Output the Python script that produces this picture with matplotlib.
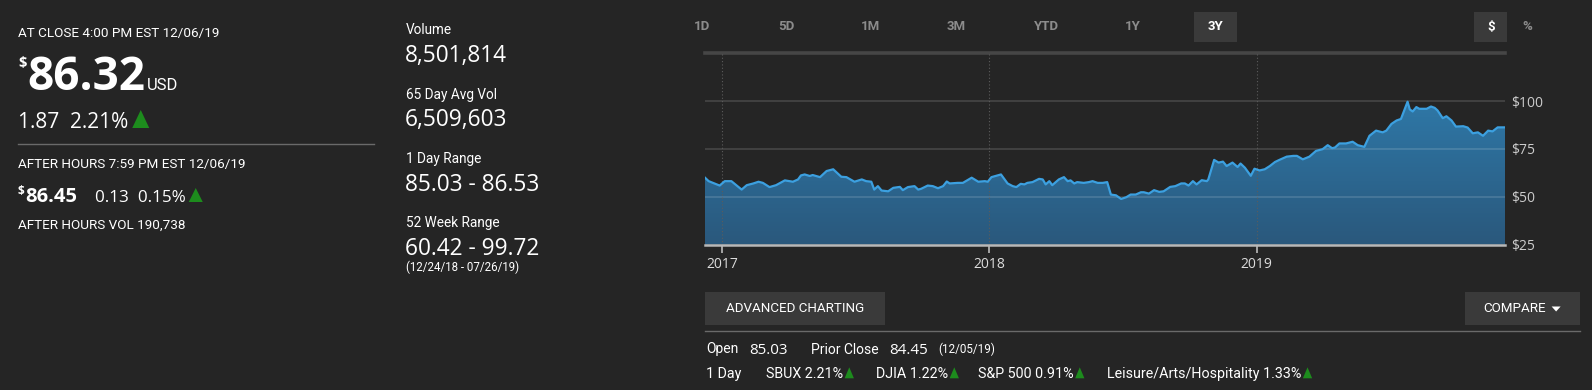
import numpy as np
import pandas as pd
import matplotlib as mpl
mpl.use('Agg')
import matplotlib.pyplot as plt
import matplotlib.dates as mdates
from matplotlib.colors import LinearSegmentedColormap
from matplotlib.patches import Rectangle, Polygon

# closing prices
dates = [
    '2016-12-09', '2016-12-14', '2016-12-29', '2017-01-05', '2017-01-14', '2017-01-28', '2017-02-04', '2017-02-13', '2017-02-20', '2017-02-26',
    '2017-03-07', '2017-03-16', '2017-03-28', '2017-04-08', '2017-04-15', '2017-04-19', '2017-04-24', '2017-05-01', '2017-05-05', '2017-05-15',
    '2017-05-24', '2017-06-02', '2017-06-13', '2017-06-20', '2017-07-01', '2017-07-11', '2017-07-17', '2017-07-24', '2017-07-28', '2017-08-02',
    '2017-08-07', '2017-08-16', '2017-08-23', '2017-09-01', '2017-09-05', '2017-09-12', '2017-09-21', '2017-09-26', '2017-09-30', '2017-10-09',
    '2017-10-16', '2017-10-23', '2017-10-30', '2017-11-04', '2017-11-08', '2017-11-19', '2017-11-26', '2017-12-08', '2017-12-17', '2017-12-26',
    '2017-12-30', '2018-01-04', '2018-01-17', '2018-01-26', '2018-02-02', '2018-02-07', '2018-02-13', '2018-02-18', '2018-02-22', '2018-03-01',
    '2018-03-10', '2018-03-15', '2018-03-19', '2018-03-24', '2018-03-28', '2018-04-06', '2018-04-13', '2018-04-18', '2018-04-22', '2018-04-27',
    '2018-05-01', '2018-05-10', '2018-05-17', '2018-05-22', '2018-05-29', '2018-06-05', '2018-06-11', '2018-06-16', '2018-06-23', '2018-06-30',
    '2018-07-07', '2018-07-13', '2018-07-20', '2018-07-27', '2018-07-31', '2018-08-07', '2018-08-14', '2018-08-21', '2018-08-27', '2018-09-05',
    '2018-09-12', '2018-09-17',
    '2018-09-20', '2018-09-25', '2018-09-30', '2018-10-06', '2018-10-11', '2018-10-18', '2018-10-25', '2018-10-27', '2018-11-04', '2018-11-10',
    '2018-11-16', '2018-11-21', '2018-11-29', '2018-12-06', '2018-12-10', '2018-12-16', '2018-12-24', '2018-12-29', '2019-01-05', '2019-01-12',
    '2019-01-19', '2019-01-26', '2019-02-01', '2019-02-11', '2019-02-20', '2019-02-25', '2019-03-05', '2019-03-14', '2019-03-23', '2019-04-01',
    '2019-04-08', '2019-04-14', '2019-04-18', '2019-04-24', '2019-05-03', '2019-05-12', '2019-05-19', '2019-05-28', '2019-06-04', '2019-06-13',
    '2019-06-22', '2019-06-27', '2019-07-04', '2019-07-11', '2019-07-17', '2019-07-26', '2019-07-29', '2019-08-02', '2019-08-07', '2019-08-11',
    '2019-08-21', '2019-08-27', '2019-09-01', '2019-09-05', '2019-09-12', '2019-09-17', '2019-09-24', '2019-09-30', '2019-10-10', '2019-10-16',
    '2019-10-23', '2019-10-30', '2019-11-06', '2019-11-13', '2019-11-19', '2019-11-26', '2019-12-06',
]
prices = [
    60.0, 58.2, 55.9, 58.2, 58.2, 53.8, 56.1, 57.0, 57.9, 57.3,
    55.1, 56.1, 58.6, 57.9, 59.1, 61.2, 61.7, 60.9, 61.4, 60.3,
    63.5, 64.4, 60.5, 60.3, 57.9, 59.1, 58.2, 57.9, 53.8, 55.6,
    53.3, 52.9, 54.7, 55.2, 53.5, 55.1, 55.6, 53.8, 54.2, 55.9,
    55.6, 54.5, 55.6, 58.0, 57.0, 57.3, 57.3, 60.0, 57.9, 58.2,
    57.9, 60.3, 61.7, 57.0, 55.6, 55.1, 56.8, 56.5, 57.3, 57.7,
    59.4, 59.1, 56.5, 58.2, 56.1, 59.1, 60.3, 58.2, 58.6, 57.0,
    57.7, 57.3, 57.7, 58.2, 57.3, 57.3, 57.7, 51.2, 50.8, 48.9,
    49.8, 51.2, 51.2, 52.4, 52.4, 51.7, 53.5, 52.6, 52.9, 55.2,
    55.6, 56.5,
    57.0, 57.0, 55.9, 58.2, 56.5, 58.7, 58.2, 59.1, 69.3, 67.9,
    68.4, 66.1, 67.9, 65.6, 67.4, 65.2, 61.0, 64.7, 63.8, 64.4,
    66.1, 68.2, 69.3, 71.0, 71.4, 71.4, 69.6, 71.0, 74.0, 74.9,
    77.0, 75.4, 75.8, 77.9, 77.9, 78.8, 77.0, 76.1, 81.9, 84.6,
    83.7, 84.6, 88.1, 89.9, 90.7, 99.7, 95.7, 94.6, 96.9, 96.0,
    96.0, 97.2, 96.5, 95.1, 91.1, 92.1, 89.9, 86.7, 86.9, 86.2,
    83.2, 83.7, 81.9, 84.6, 84.2, 86.3, 86.3,
]

y_ticks = [25, 50, 75, 100]
y_tick_labels = ['$25', '$50', '$75', '$100']
ranges = ['1D', '5D', '1M', '3M', 'YTD', '1Y', '3Y']
active_range = '3Y'

close_label = 'AT CLOSE 4:00 PM EST 12/06/19'
close_price = '86.32'
close_change = '1.87  2.21%'
after_label = 'AFTER HOURS 7:59 PM EST 12/06/19'
after_price = '86.45'
after_change = '0.13  0.15%'
after_vol = 'AFTER HOURS VOL 190,738'
stat_labels = ['Volume', '65 Day Avg Vol', '1 Day Range', '52 Week Range']
stat_values = ['8,501,814', '6,509,603', '85.03 - 86.53', '60.42 - 99.72']
range_note = '(12/24/18 - 07/26/19)'
open_price = '85.03'
prior_close = '84.45'
prior_date = '(12/05/19)'
mover_names = ['SBUX', 'DJIA', 'S&P 500', 'Leisure/Arts/Hospitality']
mover_changes = ['2.21%', '1.22%', '0.91%', '1.33%']

BG = '#252525'
GREEN = '#1d8c1d'
NARROW = ['Roboto', 'DejaVu Sans']
NUM = ['Open Sans', 'DejaVu Sans']
W, H = 1592, 390

plt.rcParams['text.parse_math'] = False

fig = plt.figure(figsize=(W / 100, H / 100), dpi=100, facecolor=BG)
# page layer in pixel coords, y down
ax0 = fig.add_axes([0, 0, 1, 1], frameon=False)
ax0.set_xlim(0, W)
ax0.set_ylim(H, 0)
ax0.axis('off')
ax0.patch.set_alpha(0)


def txt(x, y, s, size, color='white', weight='normal', family=NARROW, ha='left', va='baseline'):
    return ax0.text(x, y, s, fontsize=size, color=color, fontweight=weight,
                    family=family, ha=ha, va=va)


def right_of(t):
    bb = t.get_window_extent(fig.canvas.get_renderer())
    return bb.x1


def tri(x, base, w, h):
    ax0.add_patch(Polygon([(x, base), (x + w, base), (x + w / 2, base - h)],
                          closed=True, color=GREEN, lw=0))


# left block
txt(18, 36.5, close_label, 9.7)
txt(18, 67, '$', 10.5, weight='bold', family=NUM)
t = txt(27, 90, close_price, 33, weight='bold', family=NUM)
txt(right_of(t) + 2, 89.5, 'USD', 12)
t = txt(18, 127.5, close_change, 15, family=NUM)
tri(right_of(t) + 4, 128, 17, 18)
ax0.plot([18, 374], [144, 144], color='#6a6a6a', lw=1)
txt(18, 168, after_label, 9.7)
txt(18, 195, '$', 8.5, weight='bold', family=NUM)
t = txt(25, 201.5, after_price, 14.5, weight='bold', family=NUM)
t = txt(95, 201.5, after_change, 12.3, family=NUM)
tri(right_of(t) + 3, 202, 14, 14)
txt(18, 228.5, after_vol, 9.7)

# middle stats
for i, (lab, val) in enumerate(zip(stat_labels, stat_values)):
    y0 = 34 + i * 64.5
    txt(406, y0, lab, 9.8)
    txt(405, y0 + 27.7, val, 16.3, family=NUM)
txt(406, 271.5, range_note, 8.3)

# range buttons
range_x = [702, 786, 870, 956, 1047, 1133, 1215]
for x, r in zip(range_x, ranges):
    if r == active_range:
        ax0.add_patch(Rectangle((1194, 12), 43, 30, color='#3a3a3a', lw=0))
        txt(x, 30.5, r, 9.5, color='white', weight='bold', ha='center')
    else:
        txt(x, 30.5, r, 9.5, color='#8c8c8c', weight='bold', ha='center')
ax0.add_patch(Rectangle((1474, 12), 33, 30, color='#3a3a3a', lw=0))
txt(1491, 30.5, '$', 9.5, color='white', weight='bold', ha='center')
txt(1527, 30.5, '%', 9.5, color='#8c8c8c', weight='bold', ha='center')

# price chart
ax = fig.add_axes([705 / W, (H - 244.7) / H, 800 / W, 191.4 / H])
ax.set_facecolor(BG)
xs = mdates.date2num(pd.to_datetime(dates))
ys = np.array(prices)

poly = ax.fill_between(xs, ys, 25, facecolor='none', edgecolor='none')
cmap = LinearSegmentedColormap.from_list('fill', ['#2a587c', '#3082b5'])
grad = np.linspace(1, 0, 256).reshape(-1, 1)
im = ax.imshow(grad, extent=[xs[0], xs[-1], 25, 125], aspect='auto', cmap=cmap,
               vmin=0, vmax=1, zorder=1)
im.set_clip_path(poly.get_paths()[0], transform=ax.transData)
ax.plot(xs, ys, color='#3ca0e0', lw=1.6, zorder=3, solid_joinstyle='round')

for v in y_ticks[1:]:
    ax.axhline(v, color='white', alpha=0.13, lw=1.4, zorder=2)
ax.axhline(125, color='#464646', lw=2.6, zorder=2, clip_on=False)
ax.axhline(25, color='#b8b8b8', lw=1.8, zorder=4, clip_on=False)

ax.set_xlim(xs[0], xs[-1])
ax.set_ylim(25, 125)
ax.set_axisbelow(False)
ax.xaxis.set_major_locator(mdates.YearLocator())
ax.xaxis.set_major_formatter(mdates.DateFormatter('%Y'))
ax.grid(axis='x', color='#5c5c5c', ls=(0, (1, 2)), lw=0.8, zorder=2.5)
ax.tick_params(axis='x', length=6, width=1.1, color='#c8c8c8', labelcolor='#dcdcdc',
               labelsize=10, pad=3)
for lab in ax.get_xticklabels():
    lab.set_family(NUM)
ax.yaxis.tick_right()
ax.set_yticks(y_ticks, y_tick_labels)
ax.tick_params(axis='y', length=0, pad=4.5, labelcolor='#cccccc', labelsize=10)
for lab in ax.get_yticklabels():
    lab.set_family(NUM)
for s in ax.spines.values():
    s.set_visible(False)

# buttons and footer rows
ax0.add_patch(Rectangle((705, 292), 180, 33, color='#3a3a3a', lw=0))
txt(795, 312, 'ADVANCED CHARTING', 9.6, ha='center')
ax0.add_patch(Rectangle((1465, 292), 115, 33, color='#3a3a3a', lw=0))
t = txt(1483, 312, 'COMPARE', 9.6)
x1 = right_of(t) + 6
ax0.add_patch(Polygon([(x1, 306.5), (x1 + 9, 306.5), (x1 + 4.5, 311.5)], closed=True,
                      color='white', lw=0))
ax0.plot([705, 1580], [331, 331], color='#6a6a6a', lw=1)

txt(706, 353.5, 'Open', 10)
txt(749, 353.5, open_price, 11, family=NUM)
txt(811, 353.5, 'Prior Close', 10)
txt(889, 353.5, prior_close, 11, family=NUM)
txt(938, 353.5, prior_date, 8.4)

txt(706, 378.3, '1 Day', 10.3)
mover_x = [766, 876, 978, 1107]
for x, name, chg in zip(mover_x, mover_names, mover_changes):
    t = txt(x, 378.3, f'{name} {chg}', 10.3)
    tri(right_of(t) + 1.5, 378.3, 9.3, 11)

fig.savefig('out.png', dpi=100, facecolor=BG)
